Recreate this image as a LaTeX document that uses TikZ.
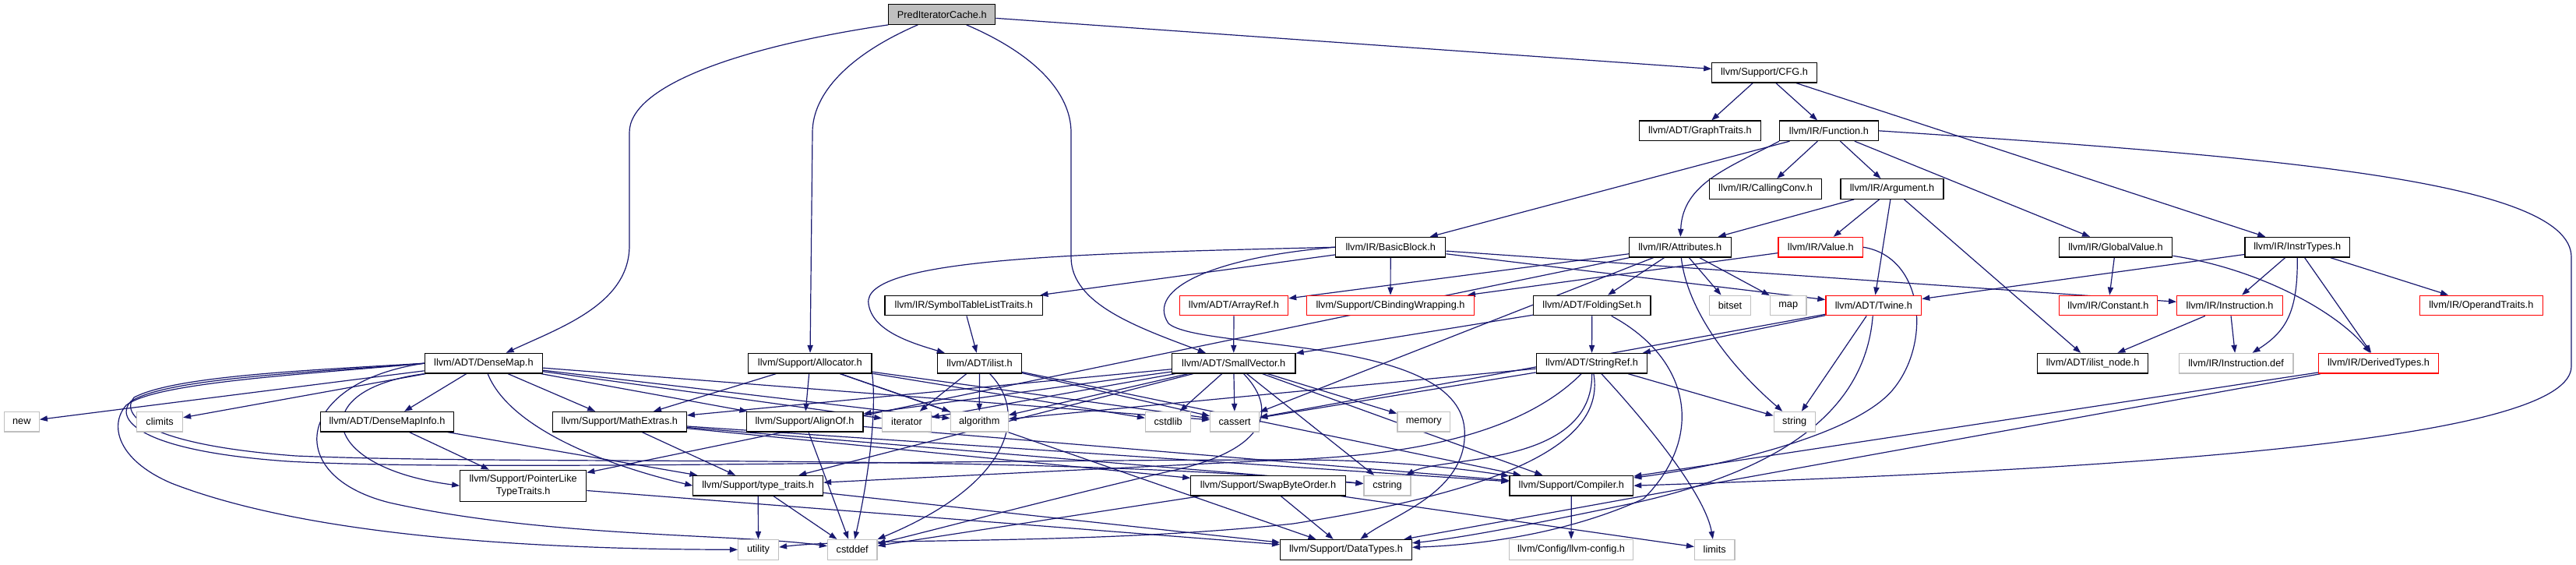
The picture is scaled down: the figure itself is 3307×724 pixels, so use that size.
\documentclass[tikz,border=0pt]{standalone}
\usepackage{fontspec}
\setmainfont{Liberation Sans}
\usetikzlibrary{arrows.meta,backgrounds}
\definecolor{edgec}{HTML}{191970}
\definecolor{greyb}{HTML}{BFBFBF}
\definecolor{redb}{HTML}{FF0000}
\begin{document}
\begin{tikzpicture}[x=0.5pt,y=-0.5pt,
  nb/.style={draw=black, fill=white, line width=0.6pt, inner sep=0pt, minimum height=12.8pt, align=center, font=\fontsize{6.37}{7.6}\selectfont},
  nr/.style={nb, draw=redb},
  ng/.style={nb, draw=greyb},
  root/.style={nb, fill=greyb},
  e/.style={draw=edgec, line width=0.6pt, -{Triangle[length=5pt,width=3.6pt]}}]
\useasboundingbox (0,0) rectangle (3307,724);
% row 0-4
\node[root, minimum width=68.5pt] (pic) at (1209.3,18.5) {PredIteratorCache.h};
\node[nb, minimum width=67.2pt] (cfg) at (2265,93.2) {llvm/Support/CFG.h};
\node[nb, minimum width=77.8pt] (gt) at (2182.4,167.8) {llvm/ADT/GraphTraits.h};
\node[nb, minimum width=63.25pt] (fn) at (2347.9,167.8) {llvm/IR/Function.h};
\node[nb, minimum width=72pt] (cc) at (2266.6,242.5) {llvm/IR/CallingConv.h};
\node[nb, minimum width=66pt] (arg) at (2429,242.5) {llvm/IR/Argument.h};
\node[nb, minimum width=70.65pt] (bb) at (1785.2,317.2) {llvm/IR/BasicBlock.h};
\node[nb, minimum width=65.35pt] (attr) at (2156.8,317.2) {llvm/IR/Attributes.h};
\node[nr, minimum width=54.25pt] (val) at (2337.3,317.2) {llvm/IR/Value.h};
\node[nb, minimum width=72.8pt] (gv) at (2716,317.2) {llvm/IR/GlobalValue.h};
\node[nb, minimum width=67.25pt] (it) at (2949.2,317.2) {llvm/IR/InstrTypes.h};
% row 5
\node[nb, minimum width=101.4pt] (stl) at (1237.3,392) {llvm/IR/SymbolTableListTraits.h};
\node[nr, minimum width=69.6pt] (ar) at (1584,392) {llvm/ADT/ArrayRef.h};
\node[nr, minimum width=107.45pt] (cbw) at (1785,392) {llvm/Support/CBindingWrapping.h};
\node[nb, minimum width=75.15pt] (fs) at (2043.8,392) {llvm/ADT/FoldingSet.h};
\node[ng, minimum width=26.45pt] (bitset) at (2221,392) {bitset};
\node[ng, minimum width=23.3pt] (map) at (2295.7,392) {map};
\node[nr, minimum width=61.4pt] (tw) at (2405.3,392) {llvm/ADT/Twine.h};
\node[nr, minimum width=63.25pt] (const) at (2706.5,392) {llvm/IR/Constant.h};
\node[nr, minimum width=68pt] (inst) at (2862.6,392) {llvm/IR/Instruction.h};
\node[nr, minimum width=78.85pt] (ot) at (3185.3,392) {llvm/IR/OperandTraits.h};
% row 6
\node[nb, minimum width=75.7pt] (dm) at (620.9,466.2) {llvm/ADT/DenseMap.h};
\node[nb, minimum width=79.15pt] (alloc) at (1039.9,466.2) {llvm/Support/Allocator.h};
\node[nb, minimum width=53.75pt] (il) at (1257.5,466.2) {llvm/ADT/ilist.h};
\node[nb, minimum width=79.3pt] (sv) at (1583.7,466.2) {llvm/ADT/SmallVector.h};
\node[nb, minimum width=71.2pt] (sr) at (2043.5,466.2) {llvm/ADT/StringRef.h};
\node[nb, minimum width=70.9pt] (iln) at (2686.6,466.2) {llvm/ADT/ilist\_node.h};
\node[ng, minimum width=73.35pt] (idef) at (2870.6,466.2) {llvm/IR/Instruction.def};
\node[nr, minimum width=76.75pt] (dt) at (3053.5,466.2) {llvm/IR/DerivedTypes.h};
% row 7
\node[ng, minimum width=22.5pt] (new) at (27.8,541.2) {new};
\node[ng, minimum width=29.4pt] (climits) at (205.1,541.2) {climits};
\node[nb, minimum width=85.75pt] (dmi) at (497,541.2) {llvm/ADT/DenseMapInfo.h};
\node[nb, minimum width=86pt] (me) at (795.3,541.2) {llvm/Support/MathExtras.h};
\node[nb, minimum width=74.9pt] (ao) at (1033,541.2) {llvm/Support/AlignOf.h};
\node[ng, minimum width=31.2pt] (iter) at (1164,541.2) {iterator};
\node[ng, minimum width=37.05pt] (algo) at (1257.2,541.2) {algorithm};
\node[ng, minimum width=29.1pt] (cstdlib) at (1499.6,541.2) {cstdlib};
\node[ng, minimum width=31.5pt] (cassert) at (1585.1,541.2) {cassert};
\node[ng, minimum width=33.9pt] (memory) at (1827.8,541.2) {memory};
\node[ng, minimum width=26.45pt] (string) at (2303.7,541.2) {string};
% row 8
\node[nb, minimum width=81pt, minimum height=20pt] (plt) at (671.7,623.2) {llvm/Support/PointerLike\\TypeTraits.h};
\node[nb, minimum width=83.35pt] (tt) at (973.2,623.2) {llvm/Support/type\_traits.h};
\node[nb, minimum width=99.25pt] (sbo) at (1628,623.2) {llvm/Support/SwapByteOrder.h};
\node[ng, minimum width=29.95pt] (cstring) at (1781,623.2) {cstring};
\node[nb, minimum width=79.4pt] (comp) at (2017.3,623.2) {llvm/Support/Compiler.h};
% row 9
\node[ng, minimum width=25.95pt] (utility) at (973.5,705.3) {utility};
\node[ng, minimum width=31.75pt] (cstddef) at (1094.2,705.3) {cstddef};
\node[nb, minimum width=84.45pt] (dtypes) at (1728,705.3) {llvm/Support/DataTypes.h};
\node[ng, minimum width=79.65pt] (cfgh) at (2017,705.3) {llvm/Config/llvm-config.h};
\node[ng, minimum width=25.7pt] (limits) at (2201.2,705.3) {limits};
\begin{pgfonlayer}{background}
\fill[white] (0,0) rectangle (3307,724);
% root
\draw[e] (pic.south west) .. controls (950,60) and (808,110) .. (808,170) -- (808,315) .. controls (808,390) and (720,420) .. (dm);
\draw[e] (pic) .. controls (1090,70) and (1043,120) .. (1043,170) -- (alloc);
\draw[e] (pic) .. controls (1330,70) and (1375,120) .. (1375,170) -- (1375,330) .. controls (1375,390) and (1460,420) .. (sv);
\draw[e] (pic) -- (cfg);
% CFG
\draw[e] (cfg) -- (gt);
\draw[e] (cfg) -- (fn);
\draw[e] (cfg) -- (it);
% Function
\draw[e] (fn) -- (bb);
\draw[e] (fn.south west) .. controls (2220,215) and (2160,235) .. (attr);
\draw[e] (fn) -- (cc);
\draw[e] (fn) -- (arg);
\draw[e] (fn) -- (gv);
\draw[e] (fn.east) .. controls (2900,200) and (3301,230) .. (3301,330) -- (3301,470) .. controls (3301,560) and (2800,600) .. (comp.east);
% Argument
\draw[e] (arg) -- (attr);
\draw[e] (arg) -- (val);
\draw[e] (arg) -- (tw);
\draw[e] (arg) -- (iln);
% BasicBlock
\draw[e] (bb) -- (stl);
\draw[e] (bb.west) .. controls (1400,325) and (1105,330) .. (1115,390) .. controls (1120,425) and (1170,440) .. (il);
\draw[e] (bb.west) .. controls (1560,330) and (1470,370) .. (1500,415) .. controls (1540,450) and (1870,430) .. (1880,550) .. controls (1886,630) and (1790,660) .. (dtypes);
\draw[e] (bb) -- (cbw);
\draw[e] (bb) -- (tw);
\draw[e] (bb) -- (inst);
% Attributes
\draw[e] (attr) -- (ar);
\draw[e] (attr) -- (fs);
\draw[e] (attr) -- (bitset);
\draw[e] (attr) -- (map);
\draw[e] (attr) .. controls (2165,390) and (2210,460) .. (string);
\draw[e] (attr) -- (cassert);
\draw[e] (attr) -- (plt);
% Value
\draw[e] (val) -- (cbw);
\draw[e] (val.east) .. controls (2470,330) and (2480,440) .. (2430,500) .. controls (2380,560) and (2200,600) .. (comp);
% GlobalValue
\draw[e] (gv) -- (const);
\draw[e] (gv) .. controls (2900,345) and (3000,400) .. (dt);
% InstrTypes
\draw[e] (it) -- (tw);
\draw[e] (it) -- (inst);
\draw[e] (it.south) .. controls (2950,400) and (2935,425) .. (idef);
\draw[e] (it) -- (dt);
\draw[e] (it) -- (ot);
% SymbolTableListTraits, ArrayRef
\draw[e] (stl) -- (il);
\draw[e] (ar) -- (sv);
% FoldingSet
\draw[e] (fs) -- (sv);
\draw[e] (fs) -- (sr);
\draw[e] (fs) .. controls (2170,460) and (2190,560) .. (2110,640) .. controls (2000,690) and (1880,700) .. (dtypes);
% Twine
\draw[e] (tw) -- (sr);
\draw[e] (tw) -- (cassert);
\draw[e] (tw) -- (string);
\draw[e] (tw) .. controls (2395,520) and (2300,600) .. (2100,645) .. controls (1980,670) and (1880,690) .. (dtypes);
% Instruction, DerivedTypes
\draw[e] (inst) -- (iln);
\draw[e] (inst) -- (idef);
\draw[e] (dt) -- (comp);
\draw[e] (dt) -- (dtypes);
% DenseMap
\draw[e] (dm) -- (new);
\draw[e] (dm) -- (climits);
\draw[e] (dm) -- (dmi);
\draw[e] (dm) -- (me);
\draw[e] (dm.south west) .. controls (390,500) and (410,600) .. (plt.west);
\draw[e] (dm) .. controls (650,540) and (750,590) .. (tt.west);
\draw[e] (dm.west) .. controls (400,480) and (200,490) .. (162,520) .. controls (140,545) and (150,590) .. (220,620) .. controls (400,690) and (700,705) .. (utility);
\draw[e] (dm.west) .. controls (380,490) and (360,610) .. (500,645) .. controls (700,690) and (950,685) .. (cstddef);
\draw[e] (dm.west) .. controls (400,478) and (215,485) .. (168,515) .. controls (148,535) and (170,578) .. (370,592) .. controls (600,605) and (1200,590) .. (1660,590) .. controls (1800,590) and (1900,605) .. (comp);
\draw[e] (dm.west) .. controls (400,475) and (225,482) .. (172,510) .. controls (155,530) and (180,570) .. (380,585) .. controls (700,598) and (1300,580) .. (cstring);
\draw[e] (dm) -- (ao);
\draw[e] (dm) -- (iter);
\draw[e] (dm) -- (algo);
\draw[e] (dm) -- (cassert);
% Allocator
\draw[e] (alloc) -- (me);
\draw[e] (alloc) -- (ao);
\draw[e] (alloc) -- (algo);
\draw[e] (alloc) -- (cassert);
\draw[e] (alloc) -- (cstdlib);
\draw[e] (alloc.south east) .. controls (1125,520) and (1118,600) .. (cstddef);
\draw[e] (alloc) -- (dtypes);
% ilist
\draw[e] (il) -- (iter);
\draw[e] (il) -- (algo);
\draw[e] (il) .. controls (1320,530) and (1300,620) .. (cstddef);
\draw[e] (il) -- (cassert);
\draw[e] (il) -- (comp);
% SmallVector
\draw[e] (sv) -- (ao);
\draw[e] (sv) -- (comp);
\draw[e] (sv) -- (me);
\draw[e] (sv) -- (tt);
\draw[e] (sv) -- (algo);
\draw[e] (sv) -- (cassert);
\draw[e] (sv) -- (cstdlib);
\draw[e] (sv) -- (iter);
\draw[e] (sv) -- (memory);
\draw[e] (sv) -- (cstring);
\draw[e] (sv) .. controls (1645,530) and (1620,580) .. (1500,605) .. controls (1350,640) and (1200,680) .. (cstddef);
% StringRef
\draw[e] (sr) -- (cassert);
\draw[e] (sr) -- (algo);
\draw[e] (sr) .. controls (1950,560) and (1800,585) .. (1650,590) -- (tt);
\draw[e] (sr) .. controls (2045,600) and (1850,585) .. (cstring);
\draw[e] (sr) .. controls (2060,560) and (1960,625) .. (1660,672) .. controls (1400,700) and (1100,690) .. (utility);
\draw[e] (sr) .. controls (2130,560) and (2190,640) .. (limits);
\draw[e] (sr) -- (string);
% DenseMapInfo, MathExtras, AlignOf
\draw[e] (dmi) -- (plt);
\draw[e] (dmi) -- (tt);
\draw[e] (me) -- (tt);
\draw[e] (me) -- (sbo);
\draw[e] (me) -- (comp);
\draw[e] (me) -- (cstring);
\draw[e] (ao) -- (comp);
\draw[e] (ao) -- (cstddef);
% lower
\draw[e] (plt) -- (dtypes);
\draw[e] (tt) -- (utility);
\draw[e] (tt) -- (cstddef);
\draw[e] (tt) -- (dtypes);
\draw[e] (sbo) -- (dtypes);
\draw[e] (sbo) -- (cstddef);
\draw[e] (sbo) -- (limits);
\draw[e] (comp) -- (cfgh);
\end{pgfonlayer}
\end{tikzpicture}
\end{document}
